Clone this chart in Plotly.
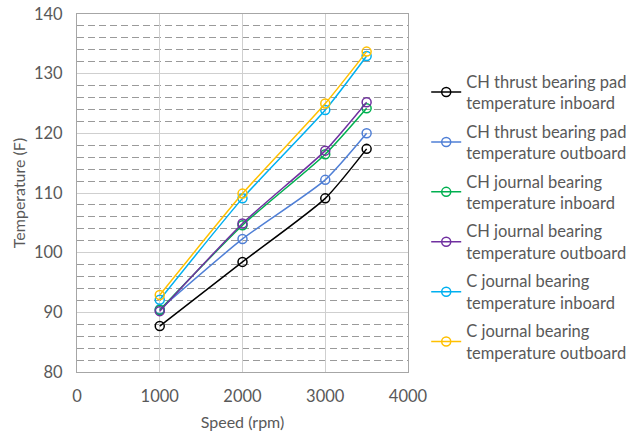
import plotly.graph_objects as go

speed = [1000, 2000, 3000, 3500]
names = [
    "CH thrust bearing pad<br>temperature inboard",
    "CH thrust bearing pad<br>temperature outboard",
    "CH journal bearing<br>temperature inboard",
    "CH journal bearing<br>temperature outboard",
    "C journal bearing<br>temperature inboard",
    "C journal bearing<br>temperature outboard",
]
ch_thrust_in = [87.7, 98.45, 109.1, 117.4]
ch_thrust_out = [90.5, 102.3, 112.2, 120.0]
ch_journal_in = [90.4, 104.6, 116.5, 124.2]
ch_journal_out = [90.2, 104.9, 117.1, 125.2]
c_journal_in = [92.1, 109.1, 123.9, 132.95]
c_journal_out = [92.9, 109.9, 125.0, 133.7]
series = [ch_thrust_in, ch_thrust_out, ch_journal_in, ch_journal_out, c_journal_in, c_journal_out]
colors = ["#000000", "#4F7FD6", "#00B050", "#7030A0", "#00B0F0", "#FFC000"]

FONT = "Lato"
GRAY = "#595959"

fig = go.Figure()
for i, (nm, vals, c) in enumerate(zip(names, series, colors)):
    fig.add_trace(go.Scatter(
        x=speed, y=vals, name=nm, mode="lines+markers",
        line=dict(color=c, width=1.5, shape="spline", smoothing=0.6),
        marker=dict(symbol="circle-open", size=9, color=c, line=dict(width=1.5, color=c)),
        legendgroup=f"g{i}",
    ))

fig.update_layout(
    width=644, height=432,
    margin=dict(l=77, r=236, t=14, b=60, autoexpand=False),
    paper_bgcolor="white", plot_bgcolor="white",
    font=dict(family=FONT, size=16, color=GRAY),
    showlegend=True,
    legend=dict(
        x=1.055, y=0.86, xanchor="left", yanchor="top",
        font=dict(family=FONT, size=16.5, color=GRAY),
        tracegroupgap=4, bgcolor="rgba(0,0,0,0)",
        itemwidth=30,
    ),
    xaxis=dict(
        range=[0, 4000], dtick=1000, tick0=0,
        showgrid=True, gridcolor="#CFCFCF", gridwidth=1,
        showline=True, linecolor="#A6A6A6", linewidth=1, mirror=True,
        zeroline=False, ticks="", automargin=False, ticklabelstandoff=9,
        title=dict(text="Speed (rpm)", standoff=12, font=dict(family=FONT, size=16, color=GRAY)),
        tickfont=dict(family=FONT, size=16.5, color=GRAY),
    ),
    yaxis=dict(
        range=[80, 140], dtick=10, tick0=80,
        showgrid=True, gridcolor="#CFCFCF", gridwidth=1,
        showline=True, linecolor="#A6A6A6", linewidth=1, mirror=True,
        zeroline=False, ticks="", automargin=False, ticklabelstandoff=10,
        minor=dict(dtick=2, showgrid=True, gridcolor="#9A9A9A", griddash="7px,4px", gridwidth=1),
        title=dict(text="Temperature (F)", standoff=4, font=dict(family=FONT, size=16, color=GRAY)),
        tickfont=dict(family=FONT, size=16.5, color=GRAY),
    ),
)

fig.write_html("out.html", config={"displayModeBar": False},
               post_script="document.body.style.margin='0';")
